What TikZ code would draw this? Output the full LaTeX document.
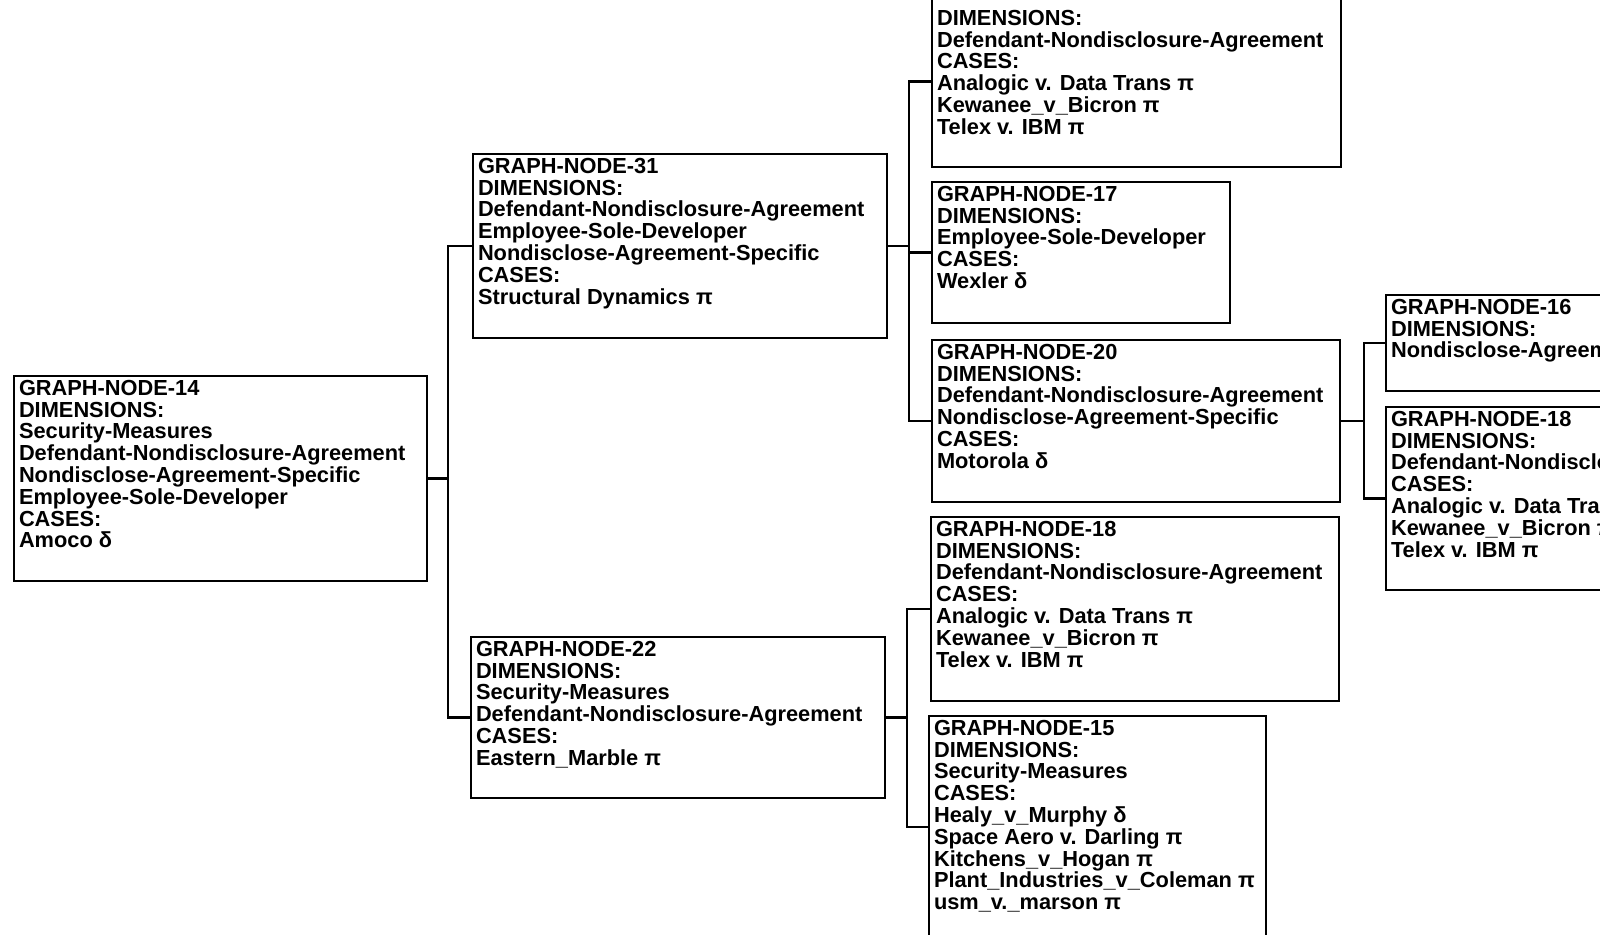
\documentclass[tikz,border=0pt]{standalone}
\usepackage{fontspec}
\setmainfont{Liberation Sans}
\usetikzlibrary{positioning}

% fixed-size text block, lines from the top
\newcommand{\gnbox}[3]{\parbox[t][#2][t]{#1}{\raggedright #3}}

\begin{document}
\begin{tikzpicture}[x=0.5pt,y=-0.5pt,
  gnode/.style={draw,line width=1pt,anchor=north west,inner xsep=2.5pt,inner ysep=2pt,
    font=\bfseries\fontsize{10.9}{10.9}\selectfont},
  link/.style={line width=1.4pt}]

\useasboundingbox (0,0) rectangle (1600,934);
\clip (0,0) rectangle (1600,934);

  \node[gnode] (14) at (13,375) {\gnbox{201.5pt}{98.5pt}{GRAPH-NODE-14\\DIMENSIONS:\\Security-Measures\\Defendant-Nondisclosure-Agreement\\Nondisclose-Agreement-Specific\\Employee-Sole-Developer\\CASES:\\Amoco δ}};

  \node[gnode] (31) at (472,153) {\gnbox{202pt}{88pt}{GRAPH-NODE-31\\DIMENSIONS:\\Defendant-Nondisclosure-Agreement\\Employee-Sole-Developer\\Nondisclose-Agreement-Specific\\CASES:\\Structural Dynamics π}};
  \node[gnode] (22) at (470,636) {\gnbox{202pt}{76.5pt}{GRAPH-NODE-22\\DIMENSIONS:\\Security-Measures\\Defendant-Nondisclosure-Agreement\\CASES:\\Eastern\_Marble π}};

  \node[gnode] (top) at (931,-5) {\gnbox{199.5pt}{81.5pt}{\vspace*{5pt}DIMENSIONS:\\Defendant-Nondisclosure-Agreement\\CASES:\\Analogic v. Data Trans π\\Kewanee\_v\_Bicron π\\Telex v. IBM π}};
  \node[gnode] (17) at (931,181) {\gnbox{144pt}{66.5pt}{GRAPH-NODE-17\\DIMENSIONS:\\Employee-Sole-Developer\\CASES:\\Wexler δ}};
  \node[gnode] (20) at (931,339) {\gnbox{199pt}{77pt}{GRAPH-NODE-20\\DIMENSIONS:\\Defendant-Nondisclosure-Agreement\\Nondisclose-Agreement-Specific\\CASES:\\Motorola δ}};
  \node[gnode] (18a) at (930,516) {\gnbox{199pt}{88pt}{GRAPH-NODE-18\\DIMENSIONS:\\Defendant-Nondisclosure-Agreement\\CASES:\\Analogic v. Data Trans π\\Kewanee\_v\_Bicron π\\Telex v. IBM π}};
  \node[gnode] (15) at (928,715) {\gnbox{163.5pt}{107pt}{GRAPH-NODE-15\\DIMENSIONS:\\Security-Measures\\CASES:\\Healy\_v\_Murphy δ\\Space Aero v. Darling π\\Kitchens\_v\_Hogan π\\Plant\_Industries\_v\_Coleman π\\usm\_v.\_marson π}};

  \node[gnode] (16) at (1385,294) {\gnbox{205pt}{44pt}{GRAPH-NODE-16\\DIMENSIONS:\\Nondisclose-Agreement-Specific}};
  \node[gnode] (18b) at (1385,406) {\gnbox{205pt}{87.5pt}{GRAPH-NODE-18\\DIMENSIONS:\\Defendant-Nondisclosure-Agreement\\CASES:\\Analogic v. Data Trans π\\Kewanee\_v\_Bicron π\\Telex v. IBM π}};

\draw[link] (14.east) -- ++(20,0) |- (31.west);
\draw[link] (14.east) -- ++(20,0) |- (22.west);
\draw[link] (31.east) -- ++(21,0) |- (top.west);
\draw[link] (31.east) -- ++(21,0) |- (17.west);
\draw[link] (31.east) -- ++(21,0) |- (20.west);
\draw[link] (22.east) -- ++(21,0) |- (18a.west);
\draw[link] (22.east) -- ++(21,0) |- (15.west);
\draw[link] (20.east) -- ++(23,0) |- (16.west);
\draw[link] (20.east) -- ++(23,0) |- (18b.west);
\end{tikzpicture}
\end{document}
